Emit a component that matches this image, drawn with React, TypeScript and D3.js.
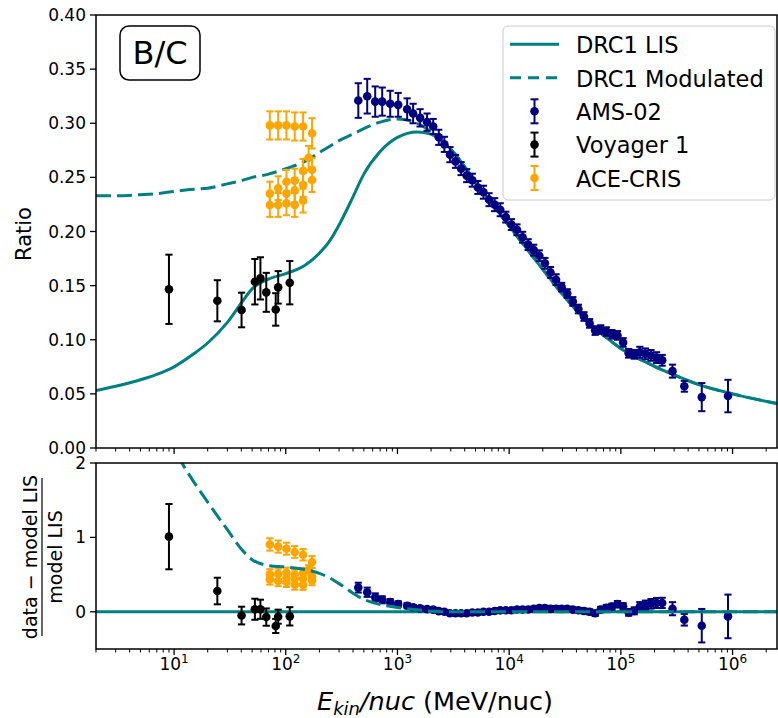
import React from 'react';
import * as d3 from 'd3';

const W = 778;
const H = 718;

// Model curves: B/C ratio vs kinetic energy per nucleon (MeV/nuc)
const modelEnergy = [2, 3, 5, 7, 10, 15, 20, 30, 40, 50, 70, 100, 150, 200, 250, 300, 400, 500, 700, 1000, 1500, 2000, 3000, 5000, 7000, 1e4, 2e4, 3e4, 5e4, 7e4, 1e5, 2e5, 3e5, 5e5, 1e6, 2.5e6];
const lisRatio = [0.053, 0.057, 0.063, 0.068, 0.075, 0.087, 0.097, 0.116, 0.134, 0.147, 0.156, 0.161, 0.169, 0.180, 0.192, 0.206, 0.232, 0.253, 0.274, 0.287, 0.292, 0.290, 0.276, 0.246, 0.226, 0.205, 0.165, 0.142, 0.117, 0.104, 0.092, 0.0755, 0.0675, 0.0585, 0.050, 0.041];
const modulatedRatio = [0.233, 0.233, 0.234, 0.235, 0.237, 0.239, 0.240, 0.244, 0.247, 0.250, 0.253, 0.258, 0.265, 0.273, 0.279, 0.284, 0.290, 0.295, 0.301, 0.304, 0.300, 0.292, 0.276, 0.246, 0.226, 0.205, 0.165, 0.142, 0.117, 0.104, 0.092, 0.0755, 0.0675, 0.0585, 0.050, 0.041];

// AMS-02
const amsEnergy = [446, 536, 632, 730, 861, 1015, 1221, 1381, 1595, 1841,
  2089, 2344, 2630, 2951, 3311, 3715, 4169, 4677, 5248, 5888,
  6607, 7413, 8318, 9333, 10470, 11750, 13180, 14790, 16600, 18620,
  20890, 23440, 26300, 29510, 33110, 37150, 41690, 46770, 52480, 58880,
  66070, 74130, 83180, 93330, 104700, 117500, 131800, 147900, 166000, 186200,
  208900, 234400, 290000, 370000, 530000, 910000];
const amsRatio = [0.321, 0.325, 0.320, 0.320, 0.318, 0.317, 0.313, 0.309, 0.305, 0.301,
  0.297, 0.287, 0.2805, 0.271, 0.2648, 0.2581, 0.2516, 0.2474, 0.2407, 0.2363,
  0.2294, 0.2248, 0.2201, 0.2133, 0.2064, 0.2016, 0.1947, 0.1879, 0.1828, 0.1776,
  0.1706, 0.1622, 0.1555, 0.1486, 0.1427, 0.1354, 0.1284, 0.1215, 0.1151, 0.1085,
  0.1094, 0.1075, 0.1050, 0.1040, 0.0975, 0.0875, 0.0865, 0.0885, 0.0870, 0.0855,
  0.0835, 0.0810, 0.071, 0.057, 0.047, 0.048];
const amsError = [0.016, 0.016, 0.014, 0.013, 0.012, 0.011, 0.010, 0.009, 0.008, 0.008,
  0.007, 0.007, 0.007, 0.007, 0.006, 0.006, 0.006, 0.006, 0.006, 0.006,
  0.006, 0.006, 0.006, 0.005, 0.005, 0.005, 0.005, 0.005, 0.005, 0.005,
  0.005, 0.005, 0.005, 0.004, 0.004, 0.004, 0.004, 0.004, 0.004, 0.004,
  0.004, 0.004, 0.004, 0.004, 0.004, 0.004, 0.004, 0.005, 0.005, 0.005,
  0.005, 0.005, 0.006, 0.005, 0.013, 0.015];

// Voyager 1
const voyagerEnergy = [9.0, 24.4, 40.2, 52.9, 59.3, 66.9, 81.3, 85.5, 108.6];
const voyagerRatio = [0.1466, 0.136, 0.1275, 0.1536, 0.1567, 0.1438, 0.128, 0.1484, 0.1527];
const voyagerError = [0.032, 0.019, 0.016, 0.021, 0.0195, 0.018, 0.015, 0.015, 0.020];

// ACE-CRIS
const aceEnergy = [72, 85.5, 101.4, 120.3, 142.9, 172,
  72, 72, 85.5, 85.5, 101.4, 101.4, 101.4, 120.3, 120.3, 120.3, 142.9, 142.9, 142.9, 160, 172, 172];
const aceRatio = [0.298, 0.298, 0.298, 0.297, 0.297, 0.2907,
  0.235, 0.2245, 0.240, 0.2245, 0.246, 0.235, 0.226, 0.238, 0.2245, 0.247, 0.256, 0.243, 0.2285, 0.268, 0.257, 0.2475];
const aceError = [0.013, 0.013, 0.013, 0.013, 0.013, 0.014,
  0.011, 0.011, 0.011, 0.011, 0.011, 0.011, 0.011, 0.011, 0.011, 0.011, 0.011, 0.011, 0.011, 0.011, 0.011, 0.011];

const ratioTicks = [0, 0.05, 0.1, 0.15, 0.2, 0.25, 0.3, 0.35, 0.4];
const residualTicks = [0, 1, 2];
const decadeExponents = [1, 2, 3, 4, 5, 6];

const TEAL = '#008080';
const NAVY = '#000080';
const ORANGE = '#ffa500';
const FONT = 'DejaVu Sans, sans-serif';

const L = 96, R = 777;
const TOP0 = 15, TOP1 = 448;
const BOT0 = 463, BOT1 = 649;

const x = d3.scaleLog().domain([2, 2.5e6]).range([L, R]);
const yR = d3.scaleLinear().domain([0, 0.4]).range([TOP1, TOP0]);
const yD = d3.scaleLinear().domain([-0.5, 2]).range([BOT1, BOT0]);
const lisAt = d3.scaleLog().domain(modelEnergy).range(lisRatio);

type Pt = [number, number];

function ErrorSeries({ es, vs, errs, color, yScale }: { es: number[]; vs: number[]; errs: number[]; color: string; yScale: (v: number) => number }) {
  const cap = 3.6;
  return (
    <g>
      {es.map((e, i) => {
        const cx = x(e);
        const ya = yScale(vs[i] - errs[i]);
        const yb = yScale(vs[i] + errs[i]);
        return (
          <g key={'b' + i} stroke={color} strokeWidth={2}>
            <line x1={cx} x2={cx} y1={ya} y2={yb} />
            <line x1={cx - cap} x2={cx + cap} y1={ya} y2={ya} />
            <line x1={cx - cap} x2={cx + cap} y1={yb} y2={yb} />
          </g>
        );
      })}
      {es.map((e, i) => (
        <circle key={'m' + i} cx={x(e)} cy={yScale(vs[i])} r={4.3} fill={color} />
      ))}
    </g>
  );
}

function XTicks({ y, labels }: { y: number; labels: boolean }) {
  const minor: number[] = [];
  for (let d = 0; d <= 6; d++) {
    for (let k = 2; k <= 9; k++) {
      const v = k * Math.pow(10, d);
      if (v >= 2 && v <= 2.5e6) minor.push(v);
    }
  }
  return (
    <g>
      {minor.map((v, i) => (
        <line key={'n' + i} x1={x(v)} x2={x(v)} y1={y} y2={y + 3.5} stroke="#000" strokeWidth={1} />
      ))}
      {decadeExponents.map((d) => (
        <g key={'M' + d}>
          <line x1={x(Math.pow(10, d))} x2={x(Math.pow(10, d))} y1={y} y2={y + 6} stroke="#000" strokeWidth={1.3} />
          {labels && (
            <text x={x(Math.pow(10, d))} y={y + 21} textAnchor="middle" fontSize={17} fontFamily={FONT} fill="#000">
              10<tspan dy={-7} fontSize={12}>{d}</tspan>
            </text>
          )}
        </g>
      ))}
    </g>
  );
}

export default function App() {
  const line = d3.line<Pt>().x((d) => x(d[0])).curve(d3.curveMonotoneX);
  const lisTop = line.y((d) => yR(d[1]))(modelEnergy.map((e, i) => [e, lisRatio[i]] as Pt)) || '';
  const modTop = line.y((d) => yR(d[1]))(modelEnergy.map((e, i) => [e, modulatedRatio[i]] as Pt)) || '';
  const modRes = line.y((d) => yD(d[1]))(modelEnergy.map((e, i) => [e, modulatedRatio[i] / lisRatio[i] - 1] as Pt)) || '';

  const resid = (es: number[], vs: number[], errs: number[]) => ({
    vs: es.map((e, i) => vs[i] / lisAt(e) - 1),
    errs: es.map((e, i) => errs[i] / lisAt(e)),
  });
  const amsRes = resid(amsEnergy, amsRatio, amsError);
  const voyRes = resid(voyagerEnergy, voyagerRatio, voyagerError);
  const aceRes = resid(aceEnergy, aceRatio, aceError);

  const legendRows = [53.3, 86.7, 120, 153.3, 186.7];
  const legendText = ['DRC1 LIS', 'DRC1 Modulated', 'AMS-02', 'Voyager 1', 'ACE-CRIS'];
  const pointColors = [NAVY, '#000', ORANGE];

  return (
    <svg width={W} height={H} style={{ position: 'fixed', left: 0, top: 0, background: '#fff' }} fontFamily={FONT}>
      <defs>
        <clipPath id="clipTop"><rect x={L} y={TOP0} width={R - L} height={TOP1 - TOP0} /></clipPath>
        <clipPath id="clipBot"><rect x={L} y={BOT0} width={R - L} height={BOT1 - BOT0} /></clipPath>
      </defs>
      <rect x={0} y={0} width={W} height={H} fill="#fff" />

      {/* Upper panel: ratio */}
      <g clipPath="url(#clipTop)">
        <path d={lisTop} fill="none" stroke={TEAL} strokeWidth={3} />
        <path d={modTop} fill="none" stroke={TEAL} strokeWidth={3} strokeDasharray="15 6" />
        <ErrorSeries es={amsEnergy} vs={amsRatio} errs={amsError} color={NAVY} yScale={yR} />
        <ErrorSeries es={voyagerEnergy} vs={voyagerRatio} errs={voyagerError} color="#000" yScale={yR} />
        <ErrorSeries es={aceEnergy} vs={aceRatio} errs={aceError} color={ORANGE} yScale={yR} />
      </g>
      <rect x={L} y={TOP0} width={R - L} height={TOP1 - TOP0} fill="none" stroke="#000" strokeWidth={1.5} />
      {ratioTicks.map((t) => (
        <g key={'rt' + t}>
          <line x1={L - 6} x2={L} y1={yR(t)} y2={yR(t)} stroke="#000" strokeWidth={1.3} />
          <text x={L - 10} y={yR(t) + 6} textAnchor="end" fontSize={17} fill="#000">{t.toFixed(2)}</text>
        </g>
      ))}
      <XTicks y={TOP1} labels={false} />
      <text transform={`translate(31,234) rotate(-90)`} textAnchor="middle" fontSize={21} fill="#000">Ratio</text>

      {/* B/C tag */}
      <rect x={120} y={26} width={80} height={54} rx={9} fill="#fff" stroke="#000" strokeWidth={1.5} />
      <text x={160} y={63.5} textAnchor="middle" fontSize={32} fill="#000">B/C</text>

      {/* Legend */}
      <rect x={503} y={26} width={272} height={174} rx={5} fill="#fff" fillOpacity={0.8} stroke="#cccccc" strokeWidth={1} />
      <line x1={510} x2={559} y1={legendRows[0] - 9} y2={legendRows[0] - 9} stroke={TEAL} strokeWidth={3} />
      <line x1={510} x2={559} y1={legendRows[1] - 9} y2={legendRows[1] - 9} stroke={TEAL} strokeWidth={3} strokeDasharray="11 7" />
      {pointColors.map((c, i) => {
        const cy = legendRows[i + 2] - 8.7;
        return (
          <g key={'lg' + i} stroke={c} strokeWidth={2}>
            <line x1={534.5} x2={534.5} y1={cy - 12} y2={cy + 12} />
            <line x1={530.5} x2={538.5} y1={cy - 12} y2={cy - 12} />
            <line x1={530.5} x2={538.5} y1={cy + 12} y2={cy + 12} />
            <circle cx={534.5} cy={cy} r={4.3} fill={c} stroke="none" />
          </g>
        );
      })}
      {legendText.map((t, i) => (
        <text key={'lt' + i} x={576} y={legendRows[i]} fontSize={22.5} fill="#000">{t}</text>
      ))}

      {/* Lower panel: relative residuals */}
      <g clipPath="url(#clipBot)">
        <line x1={L} x2={R} y1={yD(0)} y2={yD(0)} stroke={TEAL} strokeWidth={3} />
        <ErrorSeries es={amsEnergy} vs={amsRes.vs} errs={amsRes.errs} color={NAVY} yScale={yD} />
        <ErrorSeries es={voyagerEnergy} vs={voyRes.vs} errs={voyRes.errs} color="#000" yScale={yD} />
        <ErrorSeries es={aceEnergy} vs={aceRes.vs} errs={aceRes.errs} color={ORANGE} yScale={yD} />
        <path d={modRes} fill="none" stroke={TEAL} strokeWidth={3} strokeDasharray="15 6" />
      </g>
      <rect x={L} y={BOT0} width={R - L} height={BOT1 - BOT0} fill="none" stroke="#000" strokeWidth={1.5} />
      {residualTicks.map((t) => (
        <g key={'dt' + t}>
          <line x1={L - 6} x2={L} y1={yD(t)} y2={yD(t)} stroke="#000" strokeWidth={1.3} />
          <text x={L - 10} y={yD(t) + 6} textAnchor="end" fontSize={17} fill="#000">{t}</text>
        </g>
      ))}
      <XTicks y={BOT1} labels={true} />

      {/* Residual axis label as a fraction */}
      <g transform={`translate(0,557) rotate(-90)`}>
        <text x={0} y={36.5} textAnchor="middle" fontSize={19} fill="#000">data − model LIS</text>
        <line x1={-79} x2={79} y1={42} y2={42} stroke="#000" strokeWidth={1.2} />
        <text x={0} y={61.5} textAnchor="middle" fontSize={19} fill="#000">model LIS</text>
      </g>

      {/* x-axis title */}
      <text x={317} y={710} fontSize={25.5} fill="#000">
        <tspan fontStyle="italic">E</tspan>
        <tspan fontStyle="italic" fontSize={18} dy={5}>kin</tspan>
        <tspan fontStyle="italic" dy={-5}>/nuc</tspan>
        <tspan> (MeV/nuc)</tspan>
      </text>
    </svg>
  );
}
